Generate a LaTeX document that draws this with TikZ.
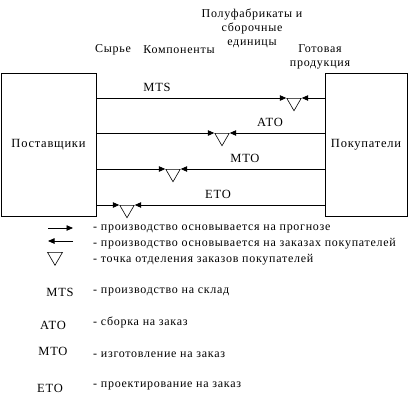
\documentclass[tikz,border=0pt]{standalone}
\usepackage{fontspec}
\setmainfont{Liberation Serif}[LetterSpace=6]
\usetikzlibrary{arrows.meta,shapes.geometric,positioning}

\begin{document}
\begin{tikzpicture}[x=1pt,y=-1pt,>={Triangle[length=6.5pt,width=5.5pt]}]
\tikzset{
party/.style={draw,line width=.8pt,minimum height=143pt,inner sep=0pt,font=\fontsize{12.5}{14}\selectfont},
stage/.style={font=\fontsize{12}{13.8}\selectfont,align=center},
mode/.style={font=\fontsize{12.5}{14}\selectfont},
note/.style={font=\fontsize{12}{14}\selectfont,anchor=west,inner sep=0pt},
cpt/.style={draw,regular polygon,regular polygon sides=3,shape border rotate=180,
minimum size=16.6pt,inner sep=0pt,anchor=side 2,line width=.6pt},
flow/.style={line width=.8pt}
}
\useasboundingbox (0,0) rectangle (410,400);

% stages of the product
\node[stage] (raw) at (113,50) {Сырье};
\node[stage] (comp) at (179,50) {Компоненты};
\node[stage] (semi) at (252,28.5) {Полуфабрикаты и\\сборочные\\единицы};
\node[stage] (fin) at (320,57) {Готовая\\продукция};

\node[party,minimum width=95pt] (sup) at (48.5,144.5) {Поставщики};
\node[party,minimum width=82pt] (cust) at (366,144.5) {Покупатели};

% decoupling points
\foreach \id/\ly/\tx/\lab/\lx in {mts/98/294/MTS/157,ato/133/222/ATO/270,mto/169/173/MTO/245,eto/205/127/ETO/218}{
  \node[cpt] (\id) at (\tx,\ly) {};
  \node[mode] (\id-lab) at (\lx,\ly-11) {\lab};
  \draw[flow,->] (sup.east |- \id.side 2) -- (\id.corner 3);
  \draw[flow,->] (cust.west |- \id.side 2) -- (\id.corner 2);
}

% legend
\coordinate (fa) at (48,228);
\coordinate (fb) at (73,228);
\coordinate (oa) at (73,241);
\coordinate (ob) at (48,241);
\draw[flow,->] (fa) -- (fb);
\draw[flow,->] (oa) -- (ob);
\node[cpt,minimum size=17.3pt] (key) at (55,252) {};

\node[note] (n1) at (93,229) {- производство основывается на прогнозе};
\node[note] (n2) at (93,244) {- производство основывается на заказах покупателей};
\node[note] (n3) at (93,260) {- точка отделения заказов покупателей};

\node[mode] (k1) at (60,292) {MTS};
\node[note] (n4) at (93,292) {- производство на склад};
\node[mode] (k2) at (53,325) {ATO};
\node[note] (n5) at (93,322) {- сборка на заказ};
\node[mode] (k3) at (53,351) {MTO};
\node[note] (n6) at (93,355) {- изготовление на заказ};
\node[mode] (k4) at (50,388) {ETO};
\node[note] (n7) at (93,386) {- проектирование на заказ};
\end{tikzpicture}
\end{document}
